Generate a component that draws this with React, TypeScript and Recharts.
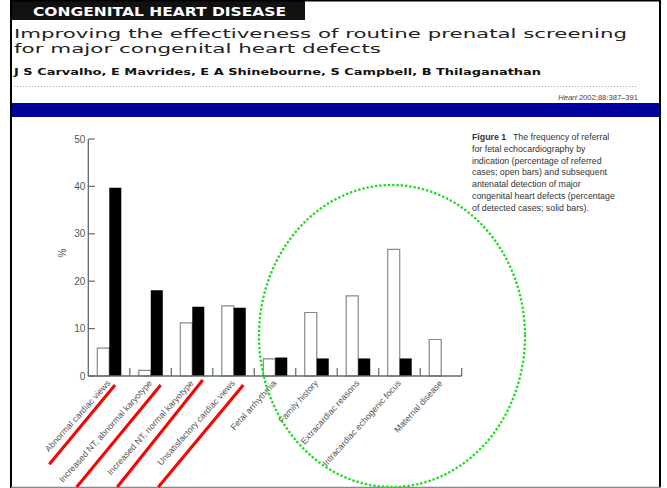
import { BarChart, Bar, XAxis, YAxis } from 'recharts'

const categories = [
  'Abnormal cardiac views',
  'Increased NT, abnormal karyotype',
  'Increased NT, normal karyotype',
  'Unsatisfactory cardiac views',
  'Fetal arrhythmia',
  'Family history',
  'Extracardiac reasons',
  'Intracardiac echogenic focus',
  'Maternal disease',
]
// open bars: % of referred cases
const referred = [5.9, 1.2, 11.2, 14.8, 3.6, 13.4, 16.9, 26.7, 7.7]
// solid bars: % of detected cases
const detected = [39.7, 18.1, 14.6, 14.4, 3.9, 3.7, 3.7, 3.7, 0]
const yTicks = [0, 10, 20, 30, 40, 50]

const captionLines = [
  'for fetal echocardiography by',
  'indication (percentage of referred',
  'cases; open bars) and subsequent',
  'antenatal detection of major',
  'congenital heart defects (percentage',
  'of detected cases; solid bars).',
]

const AXIS = '#666'
const TEXT = '#555'

const data = categories.map((name, i) => ({ name, referred: referred[i], detected: detected[i] }))

function XTick(props: any) {
  const { x, y, payload } = props
  const half = payload.offset ?? 20.75
  const tx = x + 2
  const ty = y + 7.5
  return (
    <g>
      <line x1={x + half} y1={y} x2={x + half} y2={y - 8} stroke={AXIS} strokeWidth={1.2} />
      <text
        x={tx}
        y={ty}
        transform={`rotate(-48, ${tx}, ${ty})`}
        textAnchor="end"
        fontSize={8.8}
        fill={TEXT}
      >
        {payload.value}
      </text>
    </g>
  )
}

function YTick(props: any) {
  const { x, y, payload } = props
  return (
    <g>
      <line x1={x} y1={y} x2={x + 6.5} y2={y} stroke={AXIS} strokeWidth={1.2} />
      <text x={x - 3} y={y} dy={3.5} textAnchor="end" fontSize={10} fill={TEXT}>
        {payload.value}
      </text>
    </g>
  )
}

export default function App() {
  return (
    <div
      style={{
        position: 'absolute',
        left: 0,
        top: 0,
        width: 667,
        height: 488,
        background: '#fff',
        overflow: 'hidden',
        fontFamily: '"Liberation Sans", Arial, sans-serif',
      }}
    >
      {/* page frame, article header and figure caption */}
      <svg width={667} height={488} style={{ position: 'absolute', left: 0, top: 0 }}>
        <rect x={12} y={0} width={293} height={20} fill="#111" />
        <text
          x={33}
          y={16}
          fill="#fff"
          fontSize={12.5}
          fontWeight="bold"
          fontFamily="DejaVu Sans"
          textLength={253}
          lengthAdjust="spacingAndGlyphs"
        >
          CONGENITAL HEART DISEASE
        </text>
        <line x1={12} y1={0.75} x2={661} y2={0.75} stroke="#000" strokeWidth={1.5} />
        <line x1={11} y1={0} x2={11} y2={488} stroke="#000" strokeWidth={2} />
        <line x1={660} y1={0} x2={660} y2={488} stroke="#000" strokeWidth={2} />
        <line x1={11} y1={487.3} x2={661} y2={487.3} stroke="#888" strokeWidth={1.3} />

        <text x={14} y={37.8} fill="#222" fontSize={12.5} fontFamily="DejaVu Sans" textLength={613} lengthAdjust="spacingAndGlyphs">
          Improving the effectiveness of routine prenatal screening
        </text>
        <text x={14} y={53} fill="#222" fontSize={12.5} fontFamily="DejaVu Sans" textLength={367} lengthAdjust="spacingAndGlyphs">
          for major congenital heart defects
        </text>
        <text
          x={14}
          y={75}
          fill="#111"
          fontSize={9.2}
          fontWeight="bold"
          fontFamily="DejaVu Sans"
          textLength={527}
          lengthAdjust="spacingAndGlyphs"
        >
          J S Carvalho, E Mavrides, E A Shinebourne, S Campbell, B Thilaganathan
        </text>
        <line x1={14} y1={86.5} x2={638} y2={86.5} stroke="#aaa" strokeWidth={1} strokeDasharray="1 2" />
        <text x={638} y={100} textAnchor="end" fontSize={7.6} fill="#444">
          <tspan fontStyle="italic">Heart</tspan> 2002;88:387–391
        </text>
        <rect x={12} y={103} width={647} height={14} fill="#00009c" />

        <text x={472} y={140} fontSize={8.8} fill="#333">
          <tspan fontWeight="bold">Figure 1</tspan>
          <tspan>{'\u2002 The frequency of referral'}</tspan>
        </text>
        {captionLines.map((line, i) => (
          <text key={i} x={472} y={140 + (i + 1) * 11.8} fontSize={8.8} fill="#333">
            {line}
          </text>
        ))}
      </svg>

      <BarChart
        width={667}
        height={488}
        data={data}
        margin={{ top: 139, right: 205.3, bottom: 0, left: 48.3 }}
        barGap={0}
        barSize={12}
        style={{ position: 'absolute', left: 0, top: 0 }}
      >
        <XAxis
          dataKey="name"
          height={112}
          interval={0}
          tickSize={0}
          tickMargin={0}
          tickLine={false}
          tick={<XTick />}
          axisLine={{ stroke: AXIS, strokeWidth: 1.3 }}
        />
        <YAxis
          width={40}
          domain={[0, 50]}
          ticks={yTicks}
          tickSize={0}
          tickMargin={0}
          tickLine={false}
          tick={<YTick />}
          axisLine={{ stroke: AXIS, strokeWidth: 1.3 }}
          label={{ value: '%', angle: -90, position: 'insideLeft', offset: 14, fill: TEXT, fontSize: 10 }}
        />
        <Bar dataKey="referred" fill="#fff" stroke="#888" strokeWidth={1.2} isAnimationActive={false} />
        <Bar dataKey="detected" fill="#000" isAnimationActive={false} />
      </BarChart>

      {/* hand-drawn annotations on the page */}
      <svg width={667} height={488} style={{ position: 'absolute', left: 0, top: 0, pointerEvents: 'none' }}>
        <g stroke="#ff0000" strokeWidth={3}>
          <line x1={49.3} y1={464.3} x2={115} y2={385} />
          <line x1={76.7} y1={487} x2={160.7} y2={385} />
          <line x1={117.3} y1={487} x2={202.7} y2={380} />
          <line x1={158.3} y1={487} x2={243.3} y2={385} />
        </g>
        <ellipse
          cx={392}
          cy={336}
          rx={133}
          ry={151}
          fill="none"
          stroke="#22dd22"
          strokeWidth={2.6}
          strokeDasharray="0.1 4.2"
          strokeLinecap="round"
        />
      </svg>
    </div>
  )
}
